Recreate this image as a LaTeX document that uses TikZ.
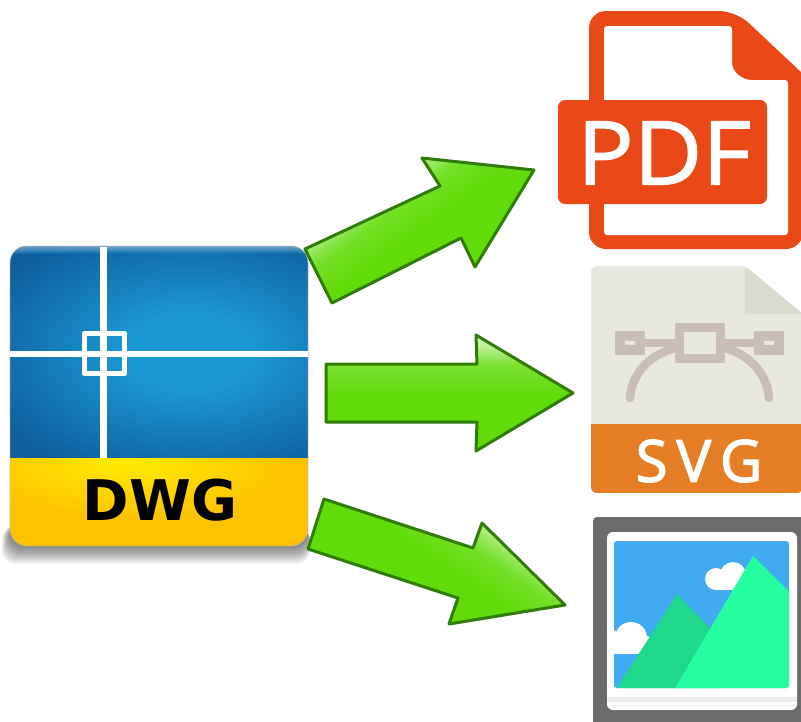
\documentclass[tikz,border=0pt]{standalone}
\usepackage{fontspec}
\setmainfont{Open Sans}
\newfontfamily\dwgfont{DejaVu Sans}
\newfontfamily\pdffont[FakeBold=1.6,FakeStretch=1.07]{Open Sans}
\newfontfamily\svgfont[FakeBold=2.4]{Open Sans}
\definecolor{arrowgreen}{HTML}{62DB0A}
\definecolor{arrowedge}{HTML}{2F7D06}
\definecolor{arrowlight}{HTML}{E0FAD0}
\definecolor{bluecore}{HTML}{1A97D2}
\definecolor{blueouter}{HTML}{0F5F9E}
\definecolor{yellowcore}{HTML}{FFEC00}
\definecolor{yellowouter}{HTML}{FDC300}
\definecolor{pdfred}{HTML}{EB4818}
\definecolor{svgpage}{HTML}{E8E8E0}
\definecolor{svgfold}{HTML}{DADACE}
\definecolor{svgband}{HTML}{E67E26}
\definecolor{svgicon}{HTML}{C8BDB8}
\definecolor{imgframe}{HTML}{6B6B6B}
\definecolor{imgsky}{HTML}{40ABF0}
\definecolor{imgdark}{HTML}{20D88C}
\definecolor{imglight}{HTML}{26FDA0}
\pgfdeclareverticalshading{arrowgrad}{100bp}{color(0bp)=(arrowgreen); color(50bp)=(arrowgreen); color(62bp)=(arrowgreen!80!arrowlight); color(75bp)=(arrowlight); color(100bp)=(arrowlight)}
\pgfdeclareverticalshading{arrowgradtilt}{100bp}{color(0bp)=(arrowgreen); color(51bp)=(arrowgreen); color(59bp)=(arrowgreen!85!arrowlight); color(71bp)=(arrowlight); color(100bp)=(arrowlight)}
\pgfdeclareradialshading{blueglow}{\pgfpoint{0bp}{0bp}}{color(0bp)=(bluecore); color(9bp)=(bluecore); color(31bp)=(blueouter); color(50bp)=(blueouter)}
\pgfdeclareradialshading{yellowglow}{\pgfpoint{-6bp}{24bp}}{color(0bp)=(yellowcore); color(27bp)=(yellowouter); color(100bp)=(yellowouter)}
\tikzset{
  flowarrow/.style={draw=arrowedge,line width=3pt,line join=round,shading=arrowgrad},
  tiltarrow/.style={draw=arrowedge,line width=3pt,line join=round,shading=arrowgradtilt},
  crossline/.style={draw=white,line width=6.5pt},
  iconline/.style={draw=svgicon,line width=8.5pt},
}
\begin{document}
\begin{tikzpicture}[x=1pt,y=-1pt]
\useasboundingbox (0,0) rectangle (801,721);
\fill[white] (0,0) rectangle (801,721);
\begin{scope}
\clip (0,0) rectangle (801,721);

% ---------- DWG icon
\foreach \g in {0,1,...,9}
  \fill[black,opacity=0.055,rounded corners=14pt] ({2+\g*0.8},525) rectangle ({310-\g*0.2},{564-\g*1.8});
\begin{scope}
  \clip[rounded corners=17pt] (10,246) rectangle (308,546);
  \shade[shading=blueglow] (10,246) rectangle (370,458);
  \shade[top color=blueouter!45!white,bottom color=blueouter!60!bluecore,opacity=0.75] (10,246) rectangle (308,253);
  \shade[shading=yellowglow] (10,458) rectangle (308,546);
  \draw[crossline] (10,354) -- (308,354);
  \draw[crossline] (103.5,247) -- (103.5,458);
  \draw[white,line width=5.5pt,line join=round] (84.5,333.5) rectangle (124.5,373.5);
\end{scope}
\draw[black!30,line width=.9pt,opacity=.6,rounded corners=17pt] (10,246) rectangle (308,546);
\node[inner sep=0pt,font=\dwgfont\bfseries\fontsize{56}{56}\selectfont,text=black] (dwg) at (160,500) {DWG};

% ---------- Arrows
\draw[tiltarrow,shading angle=36] (305,249) -- (440,186) -- (422,158) -- (534,170) -- (475,267) -- (461,238) -- (332,303) -- cycle;
\draw[flowarrow] (326,364) -- (477,364) -- (476,335) -- (573,393) -- (476,451) -- (477,422) -- (326,422) -- cycle;
\draw[tiltarrow,shading angle=-34] (324,499) -- (473,548) -- (482,523) -- (565,605) -- (449,624) -- (458,598) -- (308,549) -- cycle;

% ---------- PDF icon
\fill[pdfred,rounded corners=17pt] (589,249) -- (589,11) -- (736,11) [sharp corners] -- (803,74) [rounded corners=17pt] -- (803,249) -- cycle;
\fill[white,rounded corners=3pt] (604,235) -- (604,26) -- (732,26) -- (732,60) [sharp corners] .. controls (732,71) and (741,80) .. (752,80) [rounded corners=3pt] -- (788,80) -- (788,235) -- cycle;
\fill[pdfred,rounded corners=7pt] (558,100) rectangle (767,204);
\node[inner sep=0pt,text=white,font=\pdffont\fontsize{88}{88}\selectfont] (pdf) at (664,153) {PDF};

% ---------- SVG icon
\begin{scope}
  \clip[rounded corners=6pt] (591,266) -- (745,266) [sharp corners] -- (803,314) [rounded corners=6pt] -- (803,493) -- (591,493) -- cycle;
  \fill[svgpage] (591,266) rectangle (803,424);
  \fill[svgfold] (745,266) -- (745,314) -- (803,314) -- cycle;
  \fill[svgband] (591,424) rectangle (803,493);
\end{scope}
\draw[iconline] (645,343) -- (675,343) (725,343) -- (754,343);
\draw[iconline,line cap=round] (630,398) .. controls (632,372) and (652,352) .. (680,347);
\draw[iconline,line cap=round] (769,398) .. controls (767,372) and (747,352) .. (720,347);
\draw[iconline,line width=9pt,fill=svgpage] (679.5,327.5) rectangle (720.5,358.5);
\draw[iconline,line width=9.5pt,fill=svgpage] (619.8,335.8) rectangle (640.2,350.2);
\draw[iconline,line width=9.5pt,fill=svgpage] (758.8,335.8) rectangle (779.2,350.2);
\node[inner sep=0pt,text=white,font=\svgfont\fontsize{58}{58}\selectfont] (svg) at (699,461) {S\kern9pt V\kern9pt G};

% ---------- Image icon
\fill[imgframe,rounded corners=4pt] (593,517) rectangle (810,730);
\fill[white,rounded corners=6pt] (607,532) rectangle (797,710);
\fill[black!7] (607,697) rectangle (797,702);
\fill[black!5] (607,705) rectangle (797,706);
\fill[imgsky,rounded corners=3pt] (614,541) rectangle (789,688);
\begin{scope}
  \clip[rounded corners=3pt] (614,541) rectangle (789,688);
  \fill[white] (716,579) circle[radius=11];
  \fill[white] (733,575) circle[radius=13];
  \fill[white] (716,580) rectangle (760,590);
  \fill[white] (606,640) circle[radius=13];
  \fill[white] (631,638) circle[radius=16];
  \fill[white] (646,645) circle[radius=9];
  \fill[white] (606,640) rectangle (655,654);
  \fill[imgdark] (677,594) -- (709,627) -- (720,688) -- (617,688) -- cycle;
  \fill[imglight] (753,556) -- (795,597) -- (795,688) -- (675,688) -- cycle;
\end{scope}
\end{scope}
\end{tikzpicture}
\end{document}
